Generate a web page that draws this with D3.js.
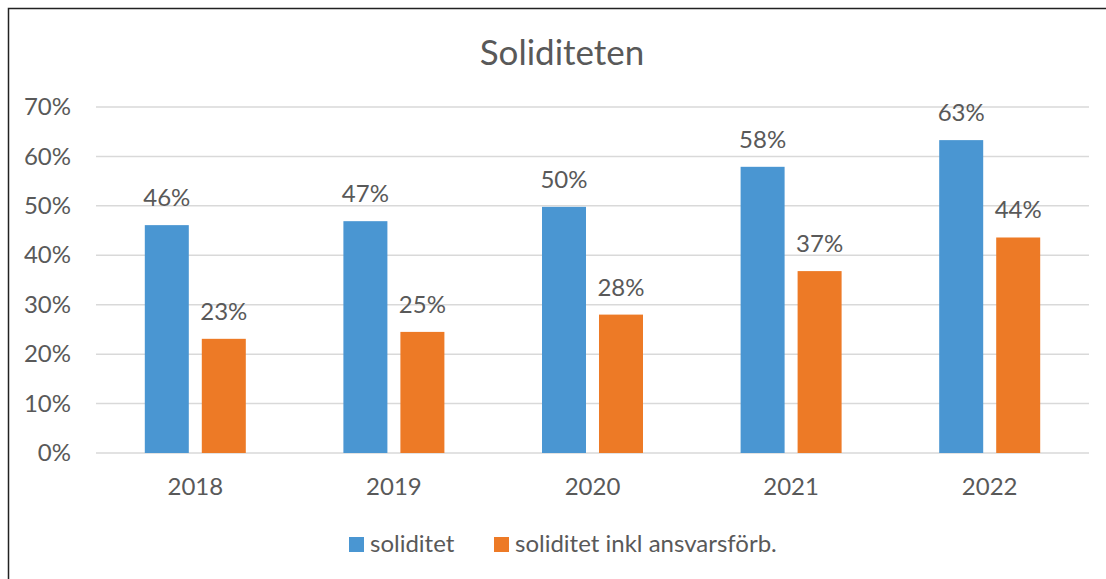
<!DOCTYPE html>
<html>
<head>
<meta charset="utf-8">
<script src="https://cdn.jsdelivr.net/npm/d3@7"></script>
<style>
  body { margin: 0; background: #fff; }
  text { font-family: Lato, "Open Sans", sans-serif; fill: #595959; }
</style>
</head>
<body>
<svg id="chart" width="1106" height="579"></svg>
<script>
// data
var years = ["2018", "2019", "2020", "2021", "2022"];
var soliditet = [46.1, 46.9, 49.8, 57.9, 63.3];
var soliditetInkl = [23.1, 24.5, 28.0, 36.8, 43.6];
var seriesNames = ["soliditet", "soliditet inkl ansvarsförb."];
var seriesColors = ["#4a96d2", "#ed7a26"];
var yTicks = [0, 10, 20, 30, 40, 50, 60, 70];

var svg = d3.select("#chart");

// outer frame (runs off the right and bottom of the window)
svg.append("rect")
  .attr("x", 8.5).attr("y", 8.5)
  .attr("width", 1110).attr("height", 600)
  .attr("fill", "none").attr("stroke", "#222").attr("stroke-width", 1.5);

var x = d3.scaleBand().domain(years).range([96, 1089]);
var y = d3.scaleLinear().domain([0, 70]).range([453, 107]);

// title
svg.append("text")
  .attr("x", 562).attr("y", 65)
  .attr("text-anchor", "middle")
  .style("font-size", "35px")
  .text("Soliditeten");

// gridlines
svg.append("g").selectAll("line")
  .data(yTicks).enter().append("line")
  .attr("x1", 96).attr("x2", 1089)
  .attr("y1", function(d) { return y(d); })
  .attr("y2", function(d) { return y(d); })
  .attr("stroke", "#d9d9d9").attr("stroke-width", 1.5);

// y axis labels
var yAxis = d3.axisLeft(y).tickValues(yTicks)
  .tickFormat(function(d) { return d + "%"; })
  .tickSize(0).tickPadding(0);
var ya = svg.append("g").attr("transform", "translate(71,0)").call(yAxis);
ya.select(".domain").remove();
ya.selectAll("text").style("font-size", "24px").attr("fill", "#595959");

// x axis labels
var xAxis = d3.axisBottom(x).tickSize(0).tickPadding(0);
var xa = svg.append("g").attr("transform", "translate(0,478)").call(xAxis);
xa.select(".domain").remove();
xa.selectAll("text").style("font-size", "24px").attr("fill", "#595959");

// bars
var inner = d3.scaleBand().domain([0, 1]).range([0, 101]).paddingInner(0.228);
var barW = inner.bandwidth();
var series = [soliditet, soliditetInkl];

series.forEach(function(vals, s) {
  var g = svg.append("g");
  var offset = (x.bandwidth() - 101) / 2;
  g.selectAll("rect")
    .data(vals).enter().append("rect")
    .attr("x", function(d, i) { return x(years[i]) + offset + inner(s); })
    .attr("y", function(d) { return y(d); })
    .attr("width", barW)
    .attr("height", function(d) { return y(0) - y(d); })
    .attr("fill", seriesColors[s]);
  g.selectAll("text")
    .data(vals).enter().append("text")
    .attr("x", function(d, i) { return x(years[i]) + offset + inner(s) + barW / 2; })
    .attr("y", function(d) { return y(d) - 19; })
    .attr("text-anchor", "middle")
    .style("font-size", "24px")
    .text(function(d) { return Math.round(d) + "%"; });
});

// legend
var legendX = [349, 494];
var lg = svg.append("g");
seriesNames.forEach(function(name, i) {
  lg.append("rect")
    .attr("x", legendX[i]).attr("y", 537)
    .attr("width", 15).attr("height", 15)
    .attr("fill", seriesColors[i]);
  lg.append("text")
    .attr("x", legendX[i] + 21).attr("y", 552)
    .style("font-size", "24px")
    .text(name);
});
</script>
</body>
</html>
